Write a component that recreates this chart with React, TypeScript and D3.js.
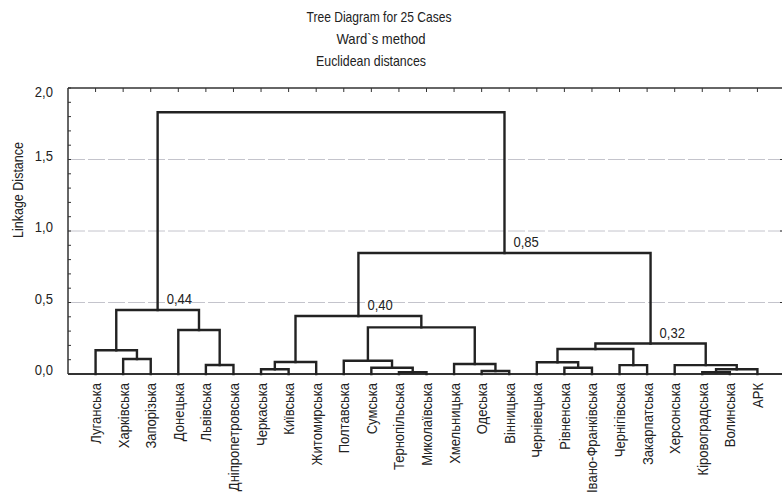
import React from "react";
import * as d3 from "d3";

const titleLines = ["Tree Diagram for 25 Cases", "Ward`s method", "Euclidean distances"];
const yAxisTitle = "Linkage Distance";

const leaves = [
  "Луганська", "Харківська", "Запорізька", "Донецька", "Львівська", "Дніпропетровська",
  "Черкаська", "Київська", "Житомирська", "Полтавська", "Сумська", "Тернопільська",
  "Миколаївська", "Хмельницька", "Одеська", "Вінницька", "Чернівецька", "Рівненська",
  "Івано-Франківська", "Чернігівська", "Закарпатська", "Херсонська", "Кіровоградська",
  "Волинська", "АРК",
];

// linkage: [left child, right child, height]; indices < 25 are leaves, 25+ are merges in order
const merges: [number, number, number][] = [
  [1, 2, 0.105],   // 25
  [0, 25, 0.166],  // 26
  [4, 5, 0.063],   // 27
  [3, 27, 0.308],  // 28
  [26, 28, 0.448], // 29
  [6, 7, 0.033],   // 30
  [30, 8, 0.084],  // 31
  [11, 12, 0.012], // 32
  [10, 32, 0.044], // 33
  [9, 33, 0.093],  // 34
  [14, 15, 0.021], // 35
  [13, 35, 0.07],  // 36
  [34, 36, 0.326], // 37
  [31, 37, 0.406], // 38
  [17, 18, 0.044], // 39
  [16, 39, 0.082], // 40
  [19, 20, 0.062], // 41
  [40, 41, 0.175], // 42
  [22, 23, 0.012], // 43
  [43, 24, 0.033], // 44
  [21, 44, 0.062], // 45
  [42, 45, 0.213], // 46
  [38, 46, 0.846], // 47
  [29, 47, 1.83],  // 48
];

const clusterLabels = [
  { node: 29, text: "0,44" },
  { node: 38, text: "0,40" },
  { node: 47, text: "0,85" },
  { node: 46, text: "0,32" },
];

const yMajorTicks = [0, 0.5, 1.0, 1.5, 2.0];
const yGridTicks = [0.5, 1.0, 1.5];

const W = 782;
const H = 496;
const FONT = "'Liberation Sans', Arial, sans-serif";
const FS = 14.5;
const SX = 0.9;

export default function App() {
  const left = 68, right = 785, top = 88, bottom = 374;
  const x = d3.scalePoint<string>().domain(leaves).range([left, right]).padding(1);
  const y = d3.scaleLinear().domain([0, 2]).range([bottom, top]);
  const fmt = (v: number) => d3.format(".1f")(v).replace(".", ",");

  const nodeX: number[] = leaves.map((l) => x(l) as number);
  const nodeH: number[] = leaves.map(() => 0);
  merges.forEach(([a, b, h]) => {
    nodeX.push((nodeX[a] + nodeX[b]) / 2);
    nodeH.push(h);
  });

  const paths = merges.map(([a, b, h], i) => {
    const p = d3.path();
    p.moveTo(nodeX[a], y(nodeH[a]));
    p.lineTo(nodeX[a], y(h));
    p.lineTo(nodeX[b], y(h));
    p.lineTo(nodeX[b], y(nodeH[b]));
    return <path key={i} d={p.toString()} fill="none" stroke="#222" strokeWidth={2.4} strokeLinejoin="miter" strokeLinecap="square" />;
  });

  const minor = d3.range(0, 2.0001, 0.1);
  const titleCenters = [379, 381, 371];
  const titleWidths = [145, 89, 110];

  return (
    <svg width={W} height={H} style={{ position: "absolute", left: 0, top: 0, background: "#fff" }} fontFamily={FONT}>
      <rect x={0} y={0} width={W} height={H} fill="#fff" />
      {titleLines.map((t, i) => (
        <text key={t} x={titleCenters[i]} y={22 + i * 22} textAnchor="middle" fontSize={15} fill="#222"
          textLength={titleWidths[i]} lengthAdjust="spacingAndGlyphs">{t}</text>
      ))}
      <text transform={`translate(23,190) rotate(-90)`} textAnchor="middle" fontSize={15} fill="#222"
        textLength={96} lengthAdjust="spacingAndGlyphs">{yAxisTitle}</text>

      {yGridTicks.map((t) => (
        <line key={t} x1={left} x2={right} y1={y(t)} y2={y(t)} stroke="#c4c4cc" strokeWidth={1} strokeDasharray="17 3" />
      ))}

      <line x1={left} x2={right} y1={top} y2={top} stroke="#333" strokeWidth={1.5} />
      <line x1={left} x2={left} y1={top} y2={bottom} stroke="#333" strokeWidth={1.5} />
      <line x1={right} x2={right} y1={top} y2={bottom} stroke="#333" strokeWidth={1.5} />
      <line x1={left} x2={right} y1={bottom} y2={bottom} stroke="#333" strokeWidth={1.8} />
      {minor.map((t) => (
        <line key={t} x1={left} x2={left + 3} y1={y(t)} y2={y(t)} stroke="#333" strokeWidth={1} />
      ))}
      {yGridTicks.map((t) => (
        <line key={t} x1={right - 5} x2={right} y1={y(t)} y2={y(t)} stroke="#333" strokeWidth={1.2} />
      ))}
      {leaves.map((l) => (
        <line key={l} x1={x(l)} x2={x(l)} y1={top} y2={top + 4} stroke="#333" strokeWidth={1} />
      ))}
      {yMajorTicks.map((t) => (
        <text key={t} transform={`translate(53,${t === 2 ? y(t) + 9 : y(t) + 1}) scale(${SX},1)`} textAnchor="end" fontSize={FS} fill="#222">{fmt(t)}</text>
      ))}

      {paths}

      {clusterLabels.map((c) => (
        <text key={c.text} transform={`translate(${nodeX[c.node] + 9},${y(nodeH[c.node]) - 6}) scale(${SX},1)`} fontSize={FS} fill="#222">{c.text}</text>
      ))}

      {leaves.map((l) => (
        <text key={l} transform={`translate(${(x(l) as number) + 5.5},383) rotate(-90) scale(${SX},1)`} textAnchor="end" fontSize={FS} fill="#222">{l}</text>
      ))}
    </svg>
  );
}
